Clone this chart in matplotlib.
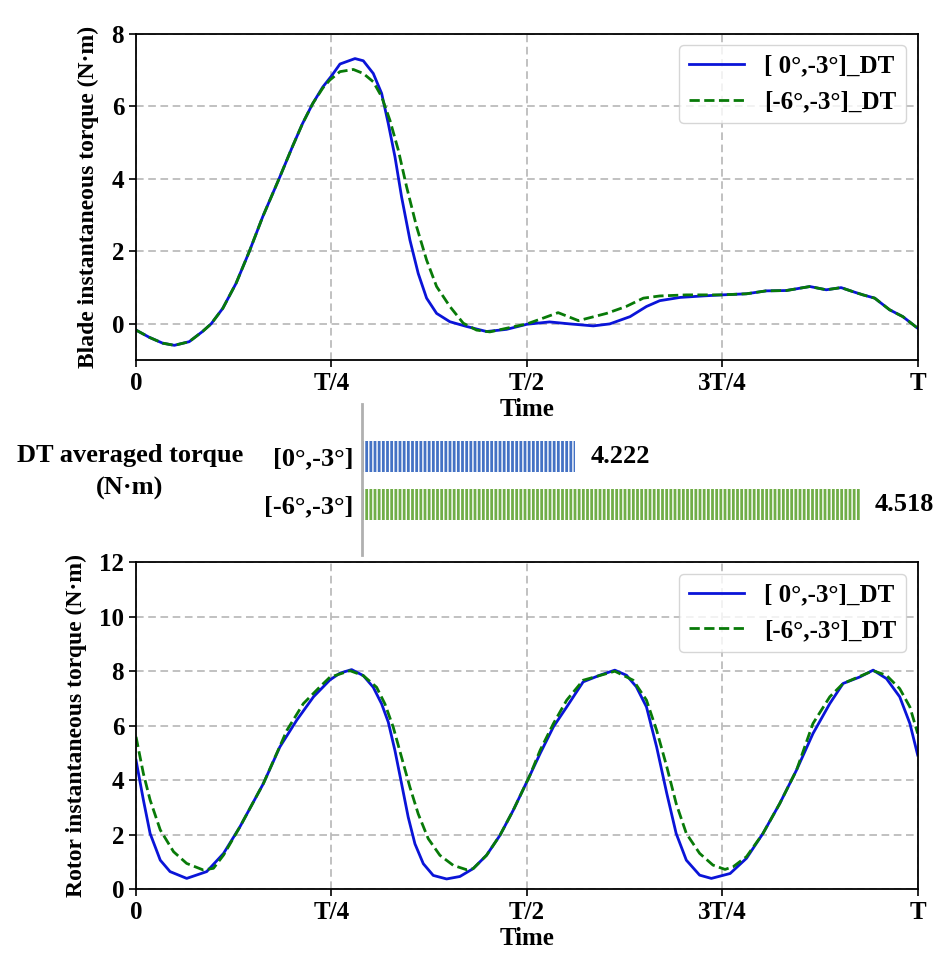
import numpy as np
import matplotlib
matplotlib.use("Agg")
import matplotlib.pyplot as plt

plt.rcParams["font.family"] = ["Liberation Serif", "DejaVu Serif"]
plt.rcParams["font.weight"] = "bold"
plt.rcParams["hatch.linewidth"] = 1.0

# blade torque over one revolution (t / T)
blade_t0 = [0.0, 0.017, 0.034, 0.049, 0.068, 0.085, 0.096, 0.111, 0.128, 0.145,
            0.162, 0.183, 0.2, 0.213, 0.226, 0.239, 0.25, 0.2609, 0.2801, 0.2907,
            0.3035, 0.3142, 0.3227, 0.3312, 0.3397, 0.3504, 0.361, 0.3717, 0.3845,
            0.4015, 0.4228, 0.4484, 0.474, 0.5, 0.529, 0.555, 0.585, 0.606, 0.632,
            0.653, 0.67, 0.696, 0.725, 0.75, 0.781, 0.806, 0.832, 0.862, 0.883,
            0.902, 0.917, 0.93, 0.945, 0.964, 0.981, 1.0]
blade_v0 = [-0.17, -0.37, -0.53, -0.59, -0.49, -0.21, 0.0, 0.43, 1.12, 2.0,
            2.95, 4.0, 4.88, 5.52, 6.07, 6.53, 6.83, 7.16, 7.31, 7.25,
            6.90, 6.35, 5.52, 4.61, 3.50, 2.31, 1.39, 0.71, 0.29,
            0.06, -0.07, -0.21, -0.15, -0.01, 0.055, 0.0, -0.055, 0.0, 0.20,
            0.48, 0.64, 0.73, 0.77, 0.80, 0.83, 0.91, 0.92, 1.03, 0.94,
            1.0, 0.89, 0.80, 0.71, 0.39, 0.20, -0.12]

blade_t6 = [0.0, 0.017, 0.034, 0.049, 0.068, 0.085, 0.096, 0.111, 0.128, 0.145,
            0.162, 0.183, 0.2, 0.213, 0.226, 0.239, 0.248, 0.2609, 0.278, 0.2907,
            0.3035, 0.3142, 0.3248, 0.3355, 0.3461, 0.3589, 0.3717, 0.3845, 0.4015,
            0.4186, 0.4356, 0.4526, 0.474, 0.5, 0.517, 0.54, 0.566, 0.602, 0.627,
            0.649, 0.67, 0.704, 0.75, 0.781, 0.806, 0.832, 0.862, 0.883,
            0.902, 0.917, 0.93, 0.945, 0.964, 0.981, 1.0]
blade_v6 = [-0.17, -0.37, -0.53, -0.59, -0.49, -0.21, 0.0, 0.43, 1.12, 2.0,
            2.95, 4.0, 4.88, 5.52, 6.07, 6.50, 6.72, 6.95, 7.01, 6.90,
            6.67, 6.26, 5.61, 4.79, 3.78, 2.68, 1.76, 1.03, 0.48,
            0.02, -0.17, -0.22, -0.12, 0.0, 0.13, 0.31, 0.09, 0.29, 0.48,
            0.71, 0.77, 0.80, 0.80, 0.83, 0.91, 0.92, 1.03, 0.94,
            1.0, 0.89, 0.80, 0.71, 0.39, 0.20, -0.12]

# rotor torque
rotor_t0 = [0.0, 0.0094, 0.018, 0.031, 0.0435, 0.0648, 0.0904, 0.112, 0.133, 0.163,
            0.184, 0.2055, 0.227, 0.248, 0.2609, 0.2758, 0.2907, 0.3035, 0.3142, 0.3227,
            0.3312, 0.3397, 0.3482, 0.3568, 0.3675, 0.3802, 0.3973, 0.4143, 0.4313,
            0.4484, 0.4655, 0.4825, 0.5038, 0.517,
            0.534, 0.551, 0.572, 0.593, 0.6125, 0.6275, 0.64, 0.653, 0.666, 0.679,
            0.691, 0.704, 0.721, 0.736, 0.76, 0.781, 0.802, 0.8235, 0.845, 0.866,
            0.8875, 0.9045, 0.926, 0.943, 0.96, 0.977, 0.99, 1.0]
rotor_v0 = [4.73, 3.27, 2.04, 1.06, 0.64, 0.39, 0.64, 1.31, 2.29, 3.88,
            5.22, 6.20, 7.06, 7.68, 7.93, 8.06, 7.84, 7.41, 6.80, 6.13,
            5.09, 3.87, 2.64, 1.66, 0.93, 0.50, 0.37, 0.46, 0.75,
            1.24, 1.97, 2.89, 4.17, 4.98,
            5.96, 6.69, 7.61, 7.85, 8.04, 7.85, 7.43, 6.69, 5.22, 3.51,
            2.04, 1.06, 0.51, 0.39, 0.57, 1.13, 2.04, 3.14, 4.37, 5.71,
            6.81, 7.55, 7.79, 8.04, 7.73, 7.06, 6.08, 4.92]

rotor_t6 = [0.0, 0.0094, 0.018, 0.031, 0.048, 0.0648, 0.086, 0.099, 0.112, 0.133,
            0.163, 0.193, 0.214, 0.235, 0.248, 0.2737, 0.2907, 0.3078, 0.3184, 0.3291,
            0.3397, 0.3504, 0.361, 0.3738, 0.3887, 0.4058, 0.4228, 0.4313, 0.4484,
            0.4655, 0.4825, 0.5038, 0.517,
            0.534, 0.551, 0.572, 0.6125, 0.636, 0.653, 0.666, 0.679, 0.691, 0.704,
            0.721, 0.738, 0.7535, 0.764, 0.781, 0.802, 0.8235, 0.845, 0.866, 0.8875,
            0.9045, 0.943, 0.96, 0.977, 0.99, 1.0]
rotor_v6 = [5.59, 4.24, 3.27, 2.17, 1.37, 0.94, 0.70, 0.76, 1.25, 2.29,
            3.88, 5.83, 6.81, 7.42, 7.78, 8.02, 7.84, 7.41, 6.80, 5.94,
            4.84, 3.74, 2.76, 1.85, 1.24, 0.87, 0.71, 0.75, 1.24,
            1.97, 2.89, 4.17, 5.10,
            6.08, 6.94, 7.67, 8.0, 7.67, 6.94, 5.83, 4.49, 3.14, 2.04,
            1.31, 0.88, 0.72, 0.82, 1.19, 2.04, 3.14, 4.37, 6.08, 7.06,
            7.55, 8.02, 7.85, 7.36, 6.69, 5.71]

cases = ["[0°,-3°]", "[-6°,-3°]"]
avg_torque = [4.222, 4.518]
legend_labels = ["[ 0°,-3°]_DT", "[-6°,-3°]_DT"]
time_ticks = [0, 0.25, 0.5, 0.75, 1.0]
time_labels = ["0", "T/4", "T/2", "3T/4", "T"]

blue = "#0a14d8"
green = "#087a08"
fs = 17

fig = plt.figure(figsize=(9.35, 9.58), dpi=100)
ax1 = fig.add_axes([0.1455, 0.624, 0.836, 0.341])
axb = fig.add_axes([0.387, 0.421, 0.595, 0.157])
ax2 = fig.add_axes([0.1455, 0.072, 0.836, 0.341])


def style_time_axis(ax, ylim, yticks, ylabel):
    ax.set_xlim(0, 1)
    ax.set_ylim(*ylim)
    ax.set_xticks(time_ticks)
    ax.set_xticklabels(time_labels)
    ax.set_yticks(yticks)
    ax.tick_params(labelsize=fs + 1, width=1.2, length=5)
    ax.grid(True, linestyle=(0, (5, 3)), color="#b0b0b0", linewidth=1.1)
    ax.set_axisbelow(True)
    ax.set_xlabel("Time", fontsize=fs + 1, fontweight="bold", labelpad=2)
    ax.set_ylabel(ylabel, fontsize=fs, fontweight="bold", labelpad=9)
    for s in ax.spines.values():
        s.set_linewidth(1.3)
    leg = ax.legend(loc="upper right", fontsize=fs + 1, handlelength=2.2,
                    borderaxespad=0.45, fancybox=True)
    leg.get_frame().set_edgecolor("#cccccc")


ax1.plot(blade_t0, blade_v0, color=blue, lw=2, label=legend_labels[0])
ax1.plot(blade_t6, blade_v6, color=green, lw=2, ls="--", label=legend_labels[1])
style_time_axis(ax1, (-1, 8), [0, 2, 4, 6, 8], "Blade instantaneous torque (N·m)")

ax2.plot(rotor_t0, rotor_v0, color=blue, lw=2, label=legend_labels[0])
ax2.plot(rotor_t6, rotor_v6, color=green, lw=2, ls="--", label=legend_labels[1])
style_time_axis(ax2, (0, 12), [0, 2, 4, 6, 8, 10, 12], "Rotor instantaneous torque (N·m)")

# averaged torque bars
ypos = np.arange(len(cases))
axb.barh(ypos, avg_torque, left=0, height=0.65, color=["#4472c4", "#70ad47"],
         edgecolor="white", hatch="||||", linewidth=0)
axb.set_xlim(4.0, 4.579)
axb.set_ylim(2.04, -1.083)
axb.set_yticks(ypos)
axb.set_yticklabels(cases, fontsize=fs + 2)
axb.tick_params(axis="y", length=0, pad=6)
axb.set_xticks([])
for k in ["top", "right", "bottom"]:
    axb.spines[k].set_visible(False)
axb.spines["left"].set_color("#b0b0b0")
axb.spines["left"].set_linewidth(2)
axb.patch.set_alpha(0)
for y, v in zip(ypos, avg_torque):
    axb.annotate(f"{v:.3f}", (v, y), xytext=(11, 0), textcoords="offset points",
                 va="center", ha="left", fontsize=fs + 2, fontweight="bold")

fig.text(0.139, 1 - 472 / 958, "DT averaged torque\n(N·m)", ha="center", va="center",
         fontsize=fs + 2, fontweight="bold", linespacing=1.5)

fig.savefig("out.png", dpi=100)
